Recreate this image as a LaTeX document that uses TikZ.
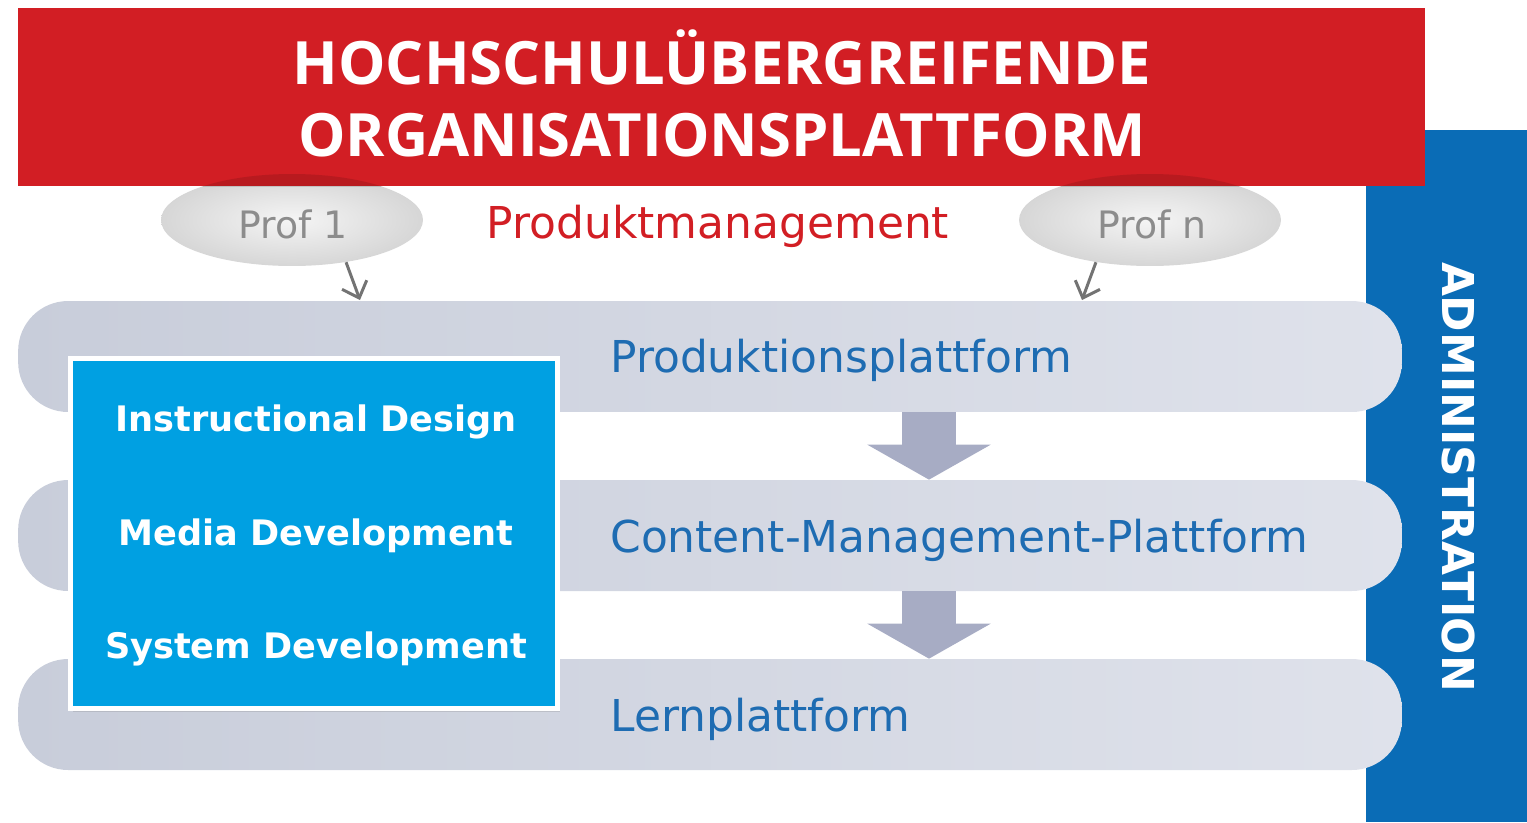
\documentclass[tikz,border=0pt]{standalone}
\usepackage{fontspec}
\setmainfont{DejaVu Sans}
\newfontfamily\titlefont{Open Sans}
\usetikzlibrary{shapes.geometric,arrows.meta,shadows}

\definecolor{hsred}{RGB}{210,30,36}
\definecolor{adminblue}{RGB}{10,108,182}
\definecolor{boxblue}{RGB}{0,160,226}
\definecolor{platblue}{RGB}{30,108,178}
\definecolor{bandleft}{RGB}{200,205,218}
\definecolor{bandright}{RGB}{223,226,235}
\definecolor{flowgray}{RGB}{167,172,196}

\begin{document}
\begin{tikzpicture}[x=0.02cm, y=-0.02cm,
    band/.style={rectangle, rounded corners=1cm, minimum width=27.68cm, minimum height=2.22cm, inner sep=0pt, left color=bandleft, right color=bandright},
    bandtext/.style={anchor=west, inner sep=0pt, text=platblue, font=\fontsize{25}{30}\selectfont},
    prof/.style={ellipse, minimum width=5.24cm, minimum height=1.84cm, inner color=black!4, outer color=black!16},
    proftext/.style={text=black!45, font=\fontsize{21.5}{26}\selectfont},
    task/.style={text=white, font=\bfseries\fontsize{20}{24}\selectfont},
    flow/.style={draw=flowgray, line width=1.08cm, -{Triangle[width=2.44cm, length=0.7cm]}},
    profarrow/.style={draw=black!55, line width=1.7pt, -{Straight Barb[length=8pt, width=15pt]}}]
            \useasboundingbox (0,0) rectangle (1527,822);

            % side bar and header
            \node[rectangle, fill=adminblue, minimum width=3.22cm, minimum height=13.84cm, inner sep=0pt] (admin) at (1446.5,476) {};
            \node[rotate=-90, text=white, font=\bfseries\fontsize{25}{30}\selectfont] (admintext) at (1458,477) {ADMINISTRATION};

            \node[prof] (prof1) at (292,220) {};
            \node[prof] (profn) at (1150,220) {};
            \node[proftext] (prof1text) at (293,224) {Prof 1};
            \node[proftext] (profntext) at (1152,224) {Prof n};

            \node[rectangle, fill=hsred, minimum width=28.14cm, minimum height=3.56cm] (title) at (721.5,97) {};
            \node[text=white, align=center, font=\titlefont\bfseries\fontsize{34}{41}\selectfont] (titletext) at (722,93)
                {HOCHSCHULÜBERGREIFENDE\\ORGANISATIONSPLATTFORM};
            \begin{scope}
                \clip (title.south west) rectangle (title.north east);
                \fill[black, opacity=0.12] (prof1) ellipse [x radius=2.62cm, y radius=0.92cm];
                \fill[black, opacity=0.12] (profn) ellipse [x radius=2.62cm, y radius=0.92cm];
            \end{scope}
            \node[text=hsred, font=\fontsize{25}{30}\selectfont] (mgmt) at (718,226) {Produktmanagement};

            % platforms
            \node[band] (prodplat) at (710,356.5) {};
            \node[band] (cmsplat)  at (710,535.5) {};
            \node[band] (lernplat) at (710,714.5) {};
            \node[bandtext] (prodlabel) at (610,360) {Produktionsplattform};
            \node[bandtext] (cmslabel)  at (610,540) {Content-Management-Plattform};
            \node[bandtext] (lernlabel) at (610,719) {Lernplattform};

            \coordinate (mid) at (929,0);
            \draw[flow] (mid |- prodplat.south) -- (mid |- cmsplat.north);
            \draw[flow] (mid |- cmsplat.south) -- (mid |- lernplat.north);

            \coordinate (p1end) at (360,300);
            \coordinate (pnend) at (1082,300);
            \draw[profarrow] (prof1.-38) -- (p1end);
            \draw[profarrow] (profn.-142) -- (pnend);

            % team box
            \node[rectangle, fill=boxblue, draw=white, line width=2.8pt, minimum width=9.73cm, minimum height=7cm,
                  drop shadow={opacity=0.25, shadow xshift=0.05cm, shadow yshift=-0.08cm}] (team) at (314,533.5) {};
            \node[task] (design) at (316,422) {Instructional Design};
            \node[task] (media)  at (316,536) {Media Development};
            \node[task] (system) at (316,649) {System Development};
        \end{tikzpicture}
\end{document}
